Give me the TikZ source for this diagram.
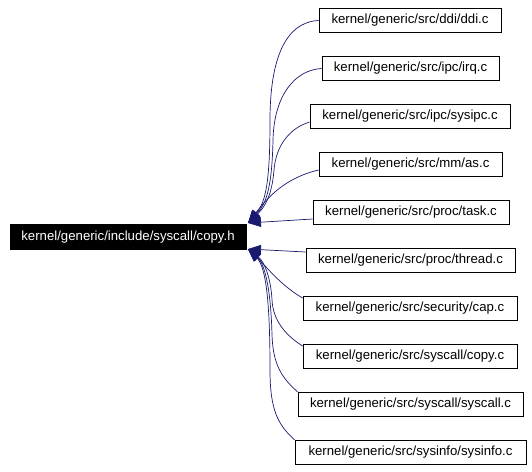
\documentclass[tikz,border=0pt]{standalone}
\usepackage{fontspec}
\setmainfont{Liberation Sans}
\usetikzlibrary{arrows.meta}
\definecolor{edgecol}{HTML}{191970}
\tikzset{
  filebox/.style={draw=black, line width=0.8pt, fill=white, inner sep=0pt, minimum height=24.5pt, font=\fontsize{13.2}{15}\selectfont, anchor=center},
  mainbox/.style={filebox, fill=black, text=white},
  dep/.style={draw=edgecol, line width=0.7pt, -{Triangle[length=13pt,width=9.5pt]}}
}
\begin{document}
\begin{tikzpicture}[x=1pt,y=-1pt]
\useasboundingbox (0,0) rectangle (532,471);
\node[mainbox, minimum width=236pt] (main) at (128,237) {kernel/generic/include/syscall/copy.h};
\node[filebox, minimum width=182pt] (ddi) at (410,20.5) {kernel/generic/src/ddi/ddi.c};
\node[filebox, minimum width=177pt] (irq) at (410.5,68.5) {kernel/generic/src/ipc/irq.c};
\node[filebox, minimum width=200pt] (sysipc) at (410,116.5) {kernel/generic/src/ipc/sysipc.c};
\node[filebox, minimum width=183pt] (as) at (410.5,164.5) {kernel/generic/src/mm/as.c};
\node[filebox, minimum width=196pt] (task) at (411,212.5) {kernel/generic/src/proc/task.c};
\node[filebox, minimum width=209pt] (thread) at (410.5,260.5) {kernel/generic/src/proc/thread.c};
\node[filebox, minimum width=214pt] (cap) at (410,308.5) {kernel/generic/src/security/cap.c};
\node[filebox, minimum width=214pt] (copy) at (410,356.5) {kernel/generic/src/syscall/copy.c};
\node[filebox, minimum width=225pt] (syscall) at (410.5,404.5) {kernel/generic/src/syscall/syscall.c};
\node[filebox, minimum width=231pt] (sysinfo) at (410.5,452.5) {kernel/generic/src/sysinfo/sysinfo.c};
\coordinate (up) at (248,223);
\coordinate (lo) at (248,249);
\draw[dep] (ddi.west) .. controls (285,22) and (270,60) .. (270,120) .. controls (270,180) and (266,202) .. (up);
\draw[dep] (irq.west) .. controls (295,70) and (274,95) .. (273,140) .. controls (272,185) and (267,203) .. (up);
\draw[dep] ([yshift=-5.5pt]sysipc.west) .. controls (290,128) and (276,145) .. (274,170) .. controls (272,195) and (265,207) .. (up);
\draw[dep] ([yshift=-5.5pt]as.west) .. controls (285,178) and (268,197) .. (up);
\draw[dep] ([yshift=-6.5pt]task.west) -- (up);
\draw[dep] ([yshift=8.5pt]thread.west) -- (lo);
\draw[dep] ([yshift=10.5pt]cap.west) .. controls (280,285) and (265,265) .. (lo);
\draw[dep] ([yshift=10.5pt]copy.west) .. controls (285,335) and (273,320) .. (272,300) .. controls (271,280) and (265,262) .. (lo);
\draw[dep] (syscall.north west) .. controls (282,378) and (273,365) .. (272,335) .. controls (271,295) and (266,265) .. (lo);
\draw[dep] (sysinfo.north west) .. controls (278,425) and (270,410) .. (270,370) .. controls (270,310) and (267,268) .. (lo);
\end{tikzpicture}
\end{document}
